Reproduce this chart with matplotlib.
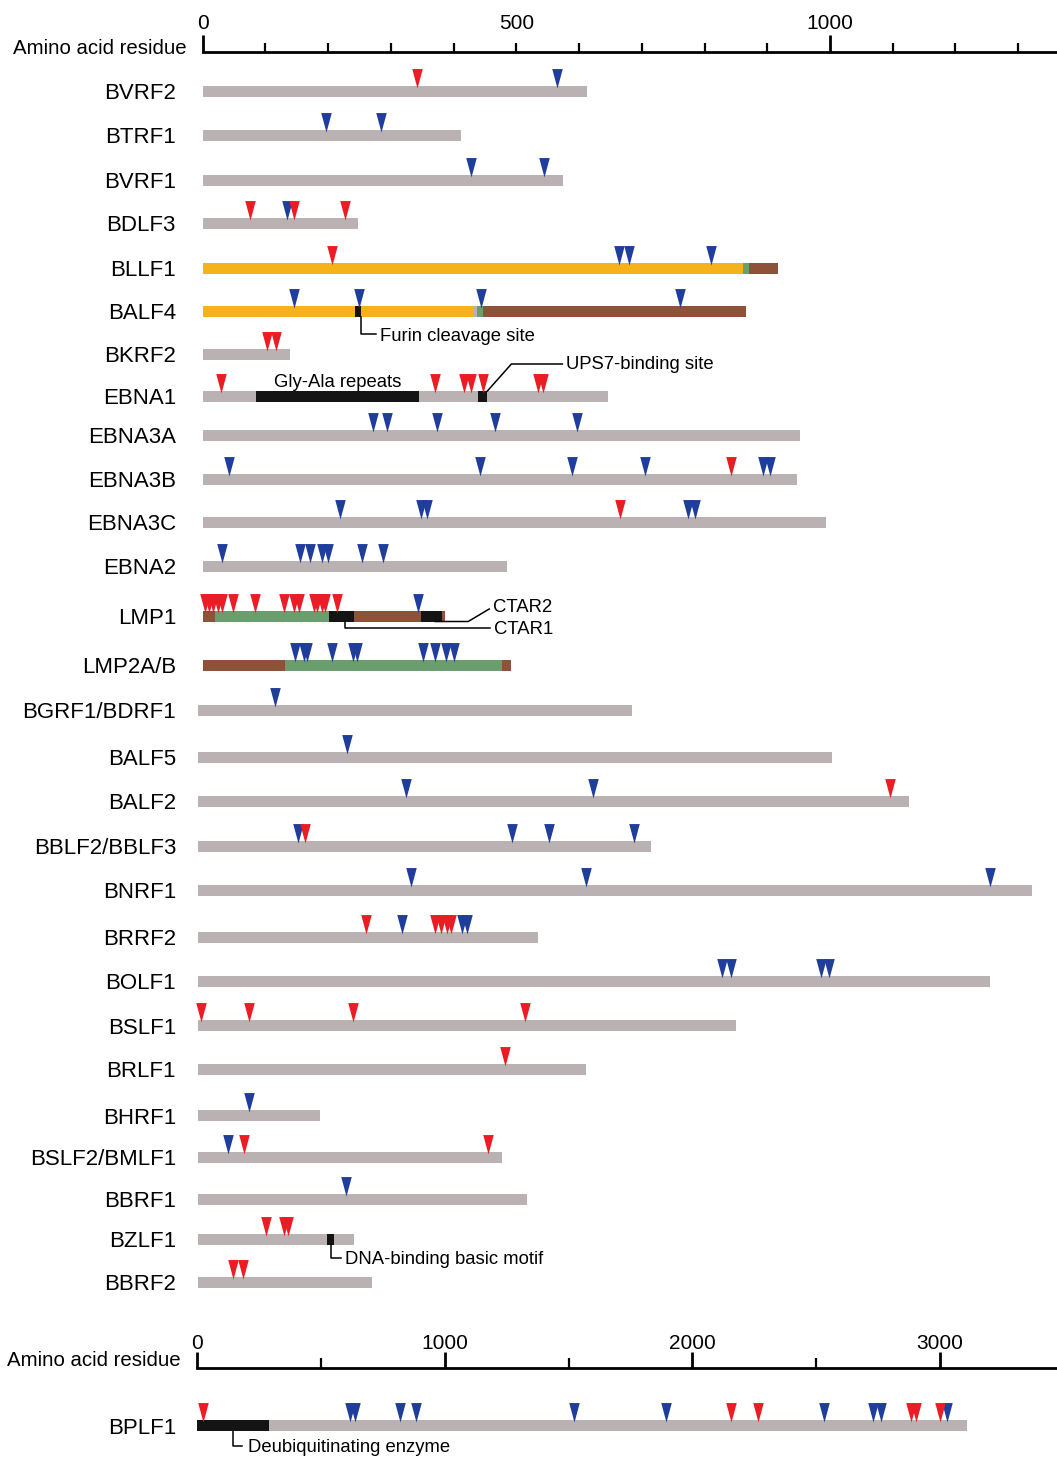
import matplotlib
matplotlib.use('Agg')
import matplotlib.pyplot as plt
from matplotlib.ticker import FixedLocator, FuncFormatter

plt.rcParams['font.family'] = ['Liberation Sans', 'DejaVu Sans']

# ---- data (residue numbers) ----
top_names = ['BVRF2', 'BTRF1', 'BVRF1', 'BDLF3', 'BLLF1', 'BALF4', 'BKRF2',
             'EBNA1', 'EBNA3A', 'EBNA3B', 'EBNA3C', 'EBNA2', 'LMP1', 'LMP2A/B']
top_lengths = [613, 412, 574, 248, 917, 866, 139, 646, 952, 947, 994, 485, 386, 491]

mid_names = ['BGRF1/BDRF1', 'BALF5', 'BALF2', 'BBLF2/BBLF3', 'BNRF1', 'BRRF2', 'BOLF1',
             'BSLF1', 'BRLF1', 'BHRF1', 'BSLF2/BMLF1', 'BBRF1', 'BZLF1', 'BBRF2']
mid_lengths = [691, 1010, 1133, 721, 1329, 541, 1262, 857, 618, 194, 484, 524, 248, 277]

bot_names = ['BPLF1']
bot_lengths = [3109]

red_sites = {
    'BVRF2': [342],
    'BDLF3': [76, 146, 227],
    'BLLF1': [206],
    'BKRF2': [103, 117],
    'EBNA1': [29, 371, 416, 428, 447, 534, 543],
    'EBNA3B': [843],
    'EBNA3C': [665],
    'LMP1': [4, 11, 17, 24, 31, 48, 84, 130, 146, 153, 177, 183, 190, 196, 214],
    'BALF2': [1102],
    'BBLF2/BBLF3': [170],
    'BRRF2': [267, 377, 387, 396, 403],
    'BSLF1': [4, 80, 247, 521],
    'BRLF1': [489],
    'BSLF2/BMLF1': [73, 461],
    'BZLF1': [108, 137, 143],
    'BBRF2': [56, 72],
    'BPLF1': [24, 2156, 2265, 2883, 2903, 3000],
}
blue_sites = {
    'BVRF2': [565],
    'BTRF1': [197, 284],
    'BVRF1': [428, 544],
    'BDLF3': [135],
    'BLLF1': [663, 679, 811],
    'BALF4': [146, 249, 444, 761],
    'EBNA3A': [272, 294, 374, 466, 597],
    'EBNA3B': [43, 442, 589, 705, 893, 904],
    'EBNA3C': [219, 348, 357, 773, 785],
    'EBNA2': [31, 156, 171, 190, 200, 254, 287],
    'LMP1': [343],
    'LMP2A/B': [147, 162, 167, 206, 240, 247, 352, 371, 388, 401],
    'BGRF1/BDRF1': [122],
    'BALF5': [237],
    'BALF2': [331, 629],
    'BBLF2/BBLF3': [159, 500, 559, 694],
    'BNRF1': [339, 618, 1262],
    'BRRF2': [325, 421, 429],
    'BOLF1': [835, 849, 992, 1005],
    'BHRF1': [80],
    'BSLF2/BMLF1': [47],
    'BBRF1': [235],
    'BPLF1': [618, 638, 820, 884, 1522, 1893, 2531, 2729, 2761, 3028],
}

# (start, end, kind)
domains = {
    'BLLF1': [(0, 861, 'ecto'), (861, 871, 'tm'), (871, 917, 'cyto')],
    'BALF4': [(0, 243, 'ecto'), (243, 253, 'motif'), (253, 433, 'ecto'),
              (437, 447, 'tm'), (447, 866, 'cyto')],
    'EBNA1': [(85, 345, 'motif'), (439, 454, 'motif')],
    'LMP1': [(0, 20, 'cyto'), (20, 202, 'tm'), (202, 241, 'motif'), (241, 349, 'cyto'),
             (349, 382, 'motif'), (382, 386, 'cyto')],
    'LMP2A/B': [(0, 131, 'cyto'), (131, 477, 'tm'), (477, 491, 'cyto')],
    'BZLF1': [(205, 217, 'motif')],
    'BPLF1': [(0, 291, 'motif')],
}

# ---- layout ----
W, H = 1057, 1457
top_y = [91, 135, 180, 223, 268, 311, 354, 396, 435, 479, 522, 566, 616, 665]
mid_y = [710, 757, 801, 846, 890.5, 937, 981, 1025.5, 1069, 1115.5, 1157, 1199, 1239, 1282]
bot_y = [1425.5]
BAR_H = 11

GREY = '#bab2b2'
RED = '#ec1c24'
BLUE = '#1f3d9a'
COLORS = {'ecto': '#f6b21a', 'tm': '#6b9e6e', 'cyto': '#8d5238', 'motif': '#141414'}
TRI = [(-0.27, 1), (0.27, 1), (0, 0), (-0.27, 1)]

fig = plt.figure(figsize=(W / 100, H / 100), dpi=100)

ax_lab = fig.add_axes([0, 0, 1, 1])
ax_lab.set_xlim(0, W)
ax_lab.set_ylim(H, 0)
ax_lab.set_axis_off()


def track_axes(origin, scale):
    ax = fig.add_axes([0, 0, 1, 1])
    ax.set_xlim(-origin / scale, (W - origin) / scale)
    ax.set_ylim(H, 0)
    ax.set_axis_off()
    ax.patch.set_visible(False)
    return ax


def ruler(origin, scale, y_line, height, major, minor, minor_labels, big, small, pad):
    x0 = origin / W
    ax = fig.add_axes([x0, 1 - y_line / H, 1 - x0, height / H])
    ax.set_xlim(0, (W - origin) / scale)
    ax.patch.set_visible(False)
    for s in ['top', 'left', 'right']:
        ax.spines[s].set_visible(False)
    ax.spines['bottom'].set_linewidth(2)
    ax.set_yticks([])
    ax.xaxis.set_major_locator(FixedLocator(major))
    ax.xaxis.set_minor_locator(FixedLocator(minor))
    ax.xaxis.set_major_formatter(FuncFormatter(lambda v, p: '%d' % v))
    ax.xaxis.set_minor_formatter(FuncFormatter(lambda v, p: '%d' % v if v in minor_labels else ''))
    ax.tick_params(which='both', direction='in', bottom=True, top=False,
                   labelbottom=False, labeltop=True, labelsize=15, pad=pad)
    ax.tick_params(which='major', length=big, width=2)
    ax.tick_params(which='minor', length=small, width=1.6)
    return ax


def draw_track(ax, name, length, y):
    ax.barh(y, length, left=0, height=BAR_H, color=GREY, lw=0)
    for s, e, kind in domains.get(name, []):
        ax.barh(y, e - s, left=s, height=BAR_H, color=COLORS[kind], lw=0)
    tip = y - BAR_H / 2 + 2
    b = blue_sites.get(name, [])
    r = red_sites.get(name, [])
    ax.plot(b, [tip] * len(b), ls='none', marker=TRI, ms=28, mfc=BLUE, mec='none')
    ax.plot(r, [tip] * len(r), ls='none', marker=TRI, ms=28, mfc=RED, mec='none')
    ax_lab.text(176, y + 8, name, ha='right', va='baseline', fontsize=16)


ax_top = track_axes(202.5, 0.6275)
ax_mid = track_axes(198.3, 0.6275)
ax_bot = track_axes(197, 0.2477)

for n, L, y in zip(top_names, top_lengths, top_y):
    draw_track(ax_top, n, L, y)
for n, L, y in zip(mid_names, mid_lengths, mid_y):
    draw_track(ax_mid, n, L, y)
for n, L, y in zip(bot_names, bot_lengths, bot_y):
    draw_track(ax_bot, n, L, y)

# rulers
ruler(202.5, 0.6275, 51.7, 17, [0, 1000], [v for v in range(100, 1400, 100) if v != 1000],
      [500], 12.2, 6.5, 1)
ruler(197, 0.2477, 1367.7, 12, [0, 1000, 2000, 3000], [500, 1500, 2500, 3500],
      [], 11.5, 7.2, 2)
ax_lab.text(187, 54, 'Amino acid residue', ha='right', va='baseline', fontsize=14.7)
ax_lab.text(181, 1366, 'Amino acid residue', ha='right', va='baseline', fontsize=14.7)

# callouts
ANN = 13.3
LW = 1.1
p = 1 / 0.6275  # residues per pixel, top/middle scale

# Furin cleavage site (BALF4)
a = domains['BALF4'][1][1]
yb = top_y[5] + BAR_H / 2
ax_top.plot([a, a, a + 15 * p], [yb, 333.5, 333.5], color='k', lw=LW)
ax_top.text(a + 19 * p, 341, 'Furin cleavage site', fontsize=ANN, va='baseline')

# EBNA1
g0, g1 = domains['EBNA1'][0][:2]
ax_top.text((g0 + g1) / 2, 387, 'Gly-Ala repeats', fontsize=ANN, ha='center', va='baseline')
a = domains['EBNA1'][1][1]
ax_top.plot([a, a + 24 * p, a + 75 * p], [391, 364, 364], color='k', lw=LW)
ax_top.text(a + 79 * p, 369, 'UPS7-binding site', fontsize=ANN, va='baseline')

# LMP1 CTAR regions
yb = top_y[12] + BAR_H / 2
a = domains['LMP1'][4][1]
ax_top.plot([a - 7 * p, a + 26 * p, a + 47 * p], [yb, yb, 609], color='k', lw=LW)
ax_top.text(a + 51 * p, 611.5, 'CTAR2', fontsize=ANN, va='baseline')
a = domains['LMP1'][2][1]
ax_top.plot([a - 9 * p, a - 9 * p, a + 136 * p], [yb, 628, 628], color='k', lw=LW)
ax_top.text(a + 140 * p, 634, 'CTAR1', fontsize=ANN, va='baseline')

# BZLF1 DNA-binding motif
s, e = domains['BZLF1'][0][:2]
a = (s + e) / 2
yb = mid_y[12] + BAR_H / 2
ax_mid.plot([a, a, a + 10 * p], [yb, 1257.5, 1257.5], color='k', lw=LW)
ax_mid.text(a + 14 * p, 1264, 'DNA-binding basic motif', fontsize=ANN, va='baseline')

# BPLF1 DUB domain
q = 1 / 0.2477
s, e = domains['BPLF1'][0][:2]
a = (s + e) / 2
yb = bot_y[0] + BAR_H / 2
ax_bot.plot([a, a, a + 9 * q], [yb, 1446, 1446], color='k', lw=LW)
ax_bot.text(a + 15 * q, 1452.5, 'Deubiquitinating enzyme', fontsize=ANN, va='baseline')

fig.savefig('out.png', dpi=100)
